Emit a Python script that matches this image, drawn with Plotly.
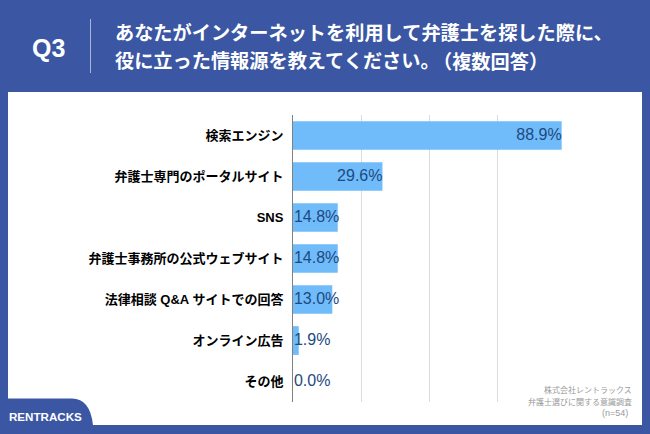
import plotly.graph_objects as go

categories = ["検索エンジン", "弁護士専門のポータルサイト", "SNS", "弁護士事務所の公式ウェブサイト",
              "法律相談 Q&A サイトでの回答", "オンライン広告", "その他"]
values = [88.9, 29.6, 14.8, 14.8, 13.0, 1.9, 0.0]
grid_ticks = [0, 22.5, 45, 67.5, 90]
title_lines = ["あなたがインターネットを利用して弁護士を探した際に、",
               "役に立った情報源を教えてください。", "（複数回答）"]
note_lines = ["株式会社レントラックス", "弁護士選びに関する意識調査", "(n=54)"]

W, H = 650, 434
L, R, T, B = 293, 565, 115, 402
BLUE = "#3b57a3"
CJK = "Liberation Sans, Noto Sans CJK JP"
SANS = "Liberation Sans"

def px(x):
    return (x - L) / (R - L)

def py(y):
    return (B - y) / (B - T)

labels = [f"{v:.1f}%" for v in values]
inside = [v >= 20 for v in values]

fig = go.Figure()
fig.add_bar(y=categories, x=values, orientation="h", marker=dict(color="#70bbfa", line_width=0),
            width=0.7, hoverinfo="skip")
fig.add_scatter(y=categories, x=[v if i else 0.3 for v, i in zip(values, inside)], mode="text",
                text=labels,
                textposition=["middle left" if i else "middle right" for i in inside],
                textfont=dict(family=SANS, size=16, color="#1d4a80"), hoverinfo="skip",
                cliponaxis=False)

fig.add_shape(type="rect", xref="paper", yref="paper", x0=px(8), x1=px(642), y0=py(92), y1=py(425),
              fillcolor="white", line_width=0, layer="below")
fig.add_shape(type="path", xref="paper", yref="paper", layer="below", fillcolor=BLUE, line_width=0,
              path=f"M {px(0)},{py(398.5)} L {px(72)},{py(398.5)} "
                   f"Q {px(90)},{py(398.5)} {px(93)},{py(425)} L {px(0)},{py(425)} Z")
fig.add_shape(type="line", xref="paper", yref="paper", x0=px(90.5), x1=px(90.5), y0=py(19), y1=py(73),
              line=dict(color="#a9b6d8", width=1))

def note(text, x, y, size, color, family, anchor="left", weight="normal"):
    fig.add_annotation(xref="paper", yref="paper", x=px(x), y=py(y), text=text, showarrow=False,
                       xanchor=anchor, yanchor="middle", align=anchor,
                       font=dict(family=family, size=size, color=color, weight=weight),
                       borderpad=0, borderwidth=0)

note("Q3", 32, 47.5, 25, "white", SANS, weight="bold")
note(title_lines[0], 115, 33, 19.2, "white", CJK, weight="bold")
note(title_lines[1], 115, 61.5, 19.2, "white", CJK, weight="bold")
note(title_lines[2], 548, 61.5, 19.2, "white", CJK, anchor="right", weight="bold")
note("RENTRACKS", 9, 416, 11.6, "white", SANS, weight="bold")
note(note_lines[0], 632, 390, 8, "#9a9a9a", CJK, anchor="right")
note(note_lines[1], 632, 402, 8, "#9a9a9a", CJK, anchor="right")
note(note_lines[2], 628, 413, 9, "#9a9a9a", CJK, anchor="right")

fig.update_layout(
    width=W, height=H, autosize=False, showlegend=False, paper_bgcolor=BLUE, plot_bgcolor="rgba(0,0,0,0)",
    margin=dict(l=L, r=W - R, t=T, b=H - B, pad=0),
    xaxis=dict(range=[0, 90], tickvals=grid_ticks, showticklabels=False, showgrid=True,
               gridcolor="#dcdcdc", gridwidth=1, zeroline=False, showline=False, fixedrange=True),
    yaxis=dict(autorange="reversed", showgrid=False, zeroline=False, showline=True, linecolor="#808080",
               linewidth=1, ticks="outside", ticklen=6, tickcolor="rgba(0,0,0,0)", fixedrange=True,
               tickfont=dict(family=CJK, size=13, color="#000000", weight="bold")),
    bargap=0.3,
)
fig.write_html("out.html", post_script="document.body.style.margin='0';", config={"displayModeBar": False})
